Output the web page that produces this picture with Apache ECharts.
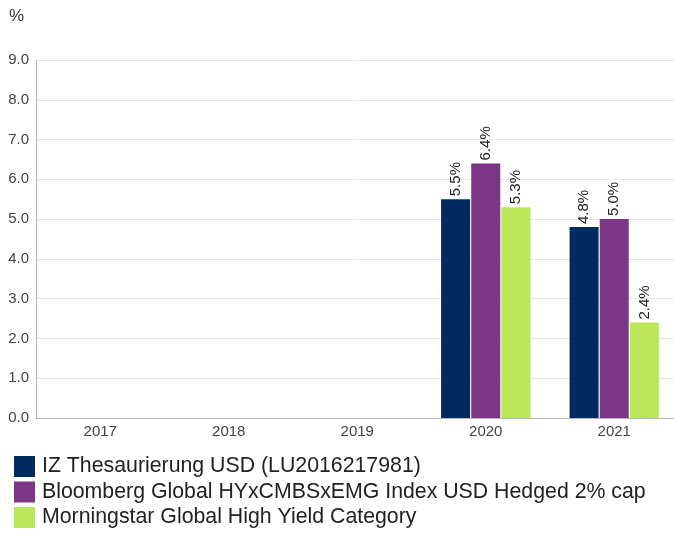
<!DOCTYPE html>
<html>
<head>
<meta charset="utf-8">
<script src="https://cdn.jsdelivr.net/npm/echarts@6/dist/echarts.min.js"></script>
<style>
    html, body { margin: 0; padding: 0; background: #fff; }
    #myChart { width: 674px; height: 533px; }
</style>
</head>
<body>
<div id="myChart"></div>
<script>
    // data
    var years = ['2017', '2018', '2019', '2020', '2021'];
    var seriesNames = [
        'IZ Thesaurierung USD (LU2016217981)',
        'Bloomberg Global HYxCMBSxEMG Index USD Hedged 2% cap',
        'Morningstar Global High Yield Category'
    ];
    var fundValues = [null, null, null, 5.5, 4.8];
    var indexValues = [null, null, null, 6.4, 5.0];
    var categoryValues = [null, null, null, 5.3, 2.4];
    var colors = ['#022a5e', '#7b3685', '#bce65a'];

    var font = '"Liberation Sans", Arial, sans-serif';

    function makeSeries(name, values) {
        return {
            name: name,
            type: 'bar',
            data: values,
            barWidth: 29,
            barGap: '4%',
            label: {
                show: true,
                position: 'top',
                rotate: 90,
                align: 'left',
                verticalAlign: 'middle',
                distance: 3,
                fontSize: 15,
                fontFamily: font,
                color: '#222',
                formatter: function (p) {
                    return p.value.toFixed(1) + '%';
                }
            }
        };
    }

    var myChart = echarts.init(document.getElementById('myChart'));
    myChart.setOption({
        animation: false,
        color: colors,
        title: {
            text: '%',
            left: 9,
            top: 8,
            padding: 0,
            textStyle: { fontSize: 17, fontWeight: 'normal', color: '#333', fontFamily: font }
        },
        legend: {
            orient: 'vertical',
            left: 14,
            top: 456,
            padding: 0,
            itemWidth: 21,
            itemHeight: 21,
            itemGap: 4.5,
            icon: 'rect',
            selectedMode: false,
            textStyle: { fontSize: 21.3, color: '#222', fontFamily: font, padding: [0, 0, 0, 2] },
            data: seriesNames
        },
        grid: {
            left: 36,
            width: 642.5,
            top: 60,
            bottom: 115,
            outerBoundsMode: 'none'
        },
        xAxis: {
            type: 'category',
            data: years,
            axisLine: { lineStyle: { color: '#b4b4b4', width: 1 } },
            axisTick: { show: false },
            axisLabel: { fontSize: 15, color: '#444', fontFamily: font, margin: 6 }
        },
        yAxis: {
            type: 'value',
            min: 0,
            max: 9,
            interval: 1,
            axisLine: { show: true, lineStyle: { color: '#b4b4b4', width: 1 } },
            axisTick: { show: false },
            splitLine: { lineStyle: { color: '#e6e6e6', width: 1 } },
            axisLabel: {
                fontSize: 15,
                color: '#444',
                fontFamily: font,
                margin: 7,
                formatter: function (v) { return v.toFixed(1); }
            }
        },
        series: [
            makeSeries(seriesNames[0], fundValues),
            makeSeries(seriesNames[1], indexValues),
            makeSeries(seriesNames[2], categoryValues)
        ]
    });
</script>
</body>
</html>
